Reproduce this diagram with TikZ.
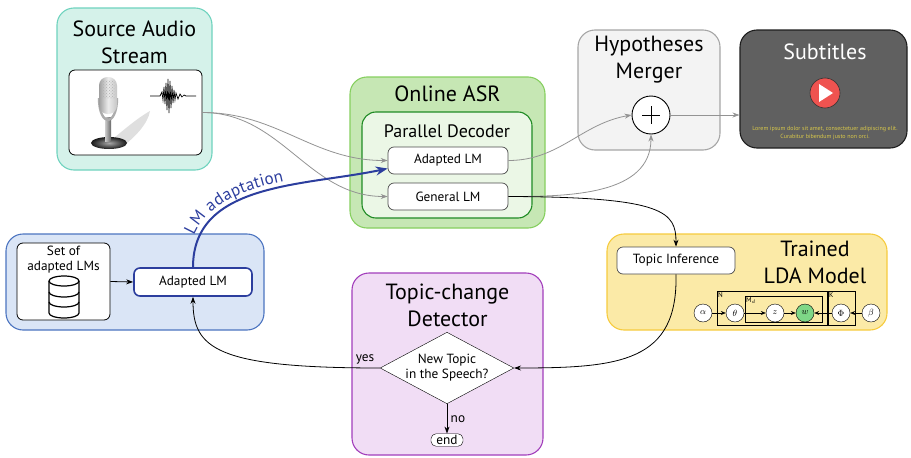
\documentclass[tikz,border=0pt]{standalone}
\usepackage{fontspec}
\setmainfont{PT Sans}
\usepackage{tikz}
\usetikzlibrary{arrows.meta,shapes.geometric,decorations.text,patterns}

\definecolor{srcfill}{HTML}{D5F2EA}
\definecolor{srcline}{HTML}{6FD3BE}
\definecolor{asrfill}{HTML}{C6E7B4}
\definecolor{asrline}{HTML}{86CF5F}
\definecolor{decfill}{HTML}{EBF7E6}
\definecolor{decline}{HTML}{1F8B24}
\definecolor{mrgfill}{HTML}{F3F3F3}
\definecolor{mrgline}{HTML}{A6A6A6}
\definecolor{subfill}{HTML}{606060}
\definecolor{subline}{HTML}{1E1E1E}
\definecolor{lmfill}{HTML}{DAE5F6}
\definecolor{lmline}{HTML}{4C74C0}
\definecolor{adaptblue}{HTML}{2C3E9E}
\definecolor{ldafill}{HTML}{FBEAA7}
\definecolor{ldaline}{HTML}{F6CB3E}
\definecolor{detfill}{HTML}{F1DDF5}
\definecolor{detline}{HTML}{A23EBB}
\definecolor{wordgreen}{HTML}{7ED787}
\definecolor{playred}{HTML}{EF5350}
\definecolor{loremtxt}{HTML}{D8C84A}

\newcommand\ttlfont{\fontsize{22}{27}\selectfont}
\newcommand\lblfont{\fontsize{13.3}{15}\selectfont}

\begin{document}
\begin{tikzpicture}[x=1pt,y=-1pt,
    panel/.style={draw, line width=1.1pt, rounded corners=17pt, inner sep=0pt},
    ttl/.style={font=\ttlfont, align=center},
    lmbox/.style={draw=black!70, fill=white, rounded corners=6pt, line width=0.7pt,
      minimum width=120pt, minimum height=27pt, inner sep=0pt, font=\lblfont},
    rv/.style={circle, draw, fill=white, minimum size=18pt, inner sep=0pt, font=\small},
    flow/.style={-{Stealth[length=7pt,width=5pt]}, line width=0.8pt},
    hyp/.style={-{Stealth[length=7pt,width=5pt]}, line width=0.8pt, gray!85},
    small arrow/.style={-{Stealth[length=5pt,width=4pt]}, line width=0.6pt}]
  \useasboundingbox (0,0) rectangle (911,458);

  % source audio
  \node[panel, draw=srcline, fill=srcfill, minimum width=155pt, minimum height=162pt] (src) at (134.5,89) {};
  \node[ttl] (srctitle) at (134.5,42) {Source Audio\\Stream};
  \node[draw, fill=white, rounded corners=6pt, line width=0.8pt, minimum width=133pt, minimum height=85pt] (srcimg) at (135.5,112.5) {};
  \fill[gray!55, opacity=0.45] (110,141) .. controls (124,130) and (136,119) .. (150,111) .. controls (148,124) and (134,138) .. (122,147) -- cycle;
  \shade[inner color=gray!70, outer color=black!90] (109,143) ellipse (18 and 6);
  \shade[left color=gray!40, right color=black!60] (105,117) rectangle (111,141);
  \draw[line width=2.4pt, gray!65] (99,98) .. controls (99,113) and (104,120) .. (108,120) .. controls (112,120) and (117,113) .. (117,98);
  \shade[left color=gray!75, right color=gray!45, middle color=gray!15, rounded corners=8.5pt] (99,77) rectangle (117,114);
  \fill[pattern=crosshatch dots, pattern color=gray!60] (101,80) rectangle (115,98);
  \draw[line width=0.7pt] (150,96) -- (160,96) -- (162,92) -- (163,100) -- (164,87) -- (165,104) -- (166,83)
    -- (167,110) -- (168,79) -- (169,113) -- (170,81) -- (171,108) -- (172,86) -- (173,103) -- (174,90)
    -- (175,100) -- (176,93) -- (178,99) -- (180,94) -- (182,97) -- (184,95) -- (186,96) -- (196,96);

  % online ASR
  \node[panel, draw=asrline, fill=asrfill, minimum width=195pt, minimum height=151pt] (asr) at (447.5,152.5) {};
  \node[ttl] (asrtitle) at (447.5,94) {Online ASR};
  \node[panel, draw=decline, fill=decfill, rounded corners=14pt, minimum width=170pt, minimum height=106pt] (dec) at (447,165) {};
  \node[font=\fontsize{18}{21}\selectfont] (dectitle) at (447,131) {Parallel Decoder};
  \node[lmbox] (asrA) at (448,160.5) {Adapted LM};
  \node[lmbox] (asrG) at (448,196.5) {General LM};

  % hypotheses merger
  \node[panel, draw=mrgline, fill=mrgfill, minimum width=142pt, minimum height=120pt] (mrg) at (649,90) {};
  \node[ttl] (mrgtitle) at (649,60) {Hypotheses\\Merger};
  \node[circle, draw, fill=white, line width=0.9pt, minimum size=38pt, inner sep=0pt] (plus) at (651,115) {};
  \draw[line width=1pt] (642,115) -- (660,115) (651,106) -- (651,124);

  % subtitles
  \node[panel, draw=subline, fill=subfill, minimum width=167pt, minimum height=118pt] (sub) at (823.5,89) {};
  \node[ttl, text=white] (subtitle) at (825,52) {Subtitles};
  \node[circle, draw=black!80, fill=playred, minimum size=30pt, line width=0.6pt] (play) at (825,93) {};
  \fill[white] (819,84) -- (833,93) -- (819,102) -- cycle;
  \node[font=\fontsize{6}{8}\selectfont, text=loremtxt, align=center] (lorem) at (825,133)
    {Lorem ipsum dolor sit amet, consectetuer adipiscing elit.\\Curabitur bibendum justo non orci.};

  % adapted LMs store
  \node[panel, draw=lmline, fill=lmfill, minimum width=258pt, minimum height=96pt] (store) at (135,282) {};
  \node[draw, fill=white, rounded corners=6pt, line width=0.8pt, minimum width=93pt, minimum height=77pt] (set) at (63.5,281.5) {};
  \node[font=\lblfont, align=center] (settitle) at (63.5,260) {Set of\\adapted LMs};
  \begin{scope}[line width=1.2pt]
    \draw[fill=white] (49,281) -- (49,313) arc (180:0:15 and 5) -- (79,281);
    \draw[fill=white] (64,281) ellipse (15 and 5);
    \draw (49,292) arc (180:0:15 and 5);
    \draw (49,302) arc (180:0:15 and 5);
  \end{scope}
  \node[lmbox, draw=adaptblue, line width=1.6pt, minimum width=118pt, minimum height=28pt] (alm) at (193,282) {Adapted LM};

  % trained LDA model
  \node[panel, draw=ldaline, fill=ldafill, minimum width=280pt, minimum height=96pt] (lda) at (747,282) {};
  \node[ttl, align=center] (ldatitle) at (815,262) {Trained\\LDA Model};
  \node[lmbox, minimum width=118pt] (ti) at (676,260.5) {Topic Inference};
  \draw[line width=0.7pt] (717,291) rectangle (827,325);
  \draw[line width=0.7pt] (745,296) rectangle (822,322);
  \draw[line width=0.7pt] (828,291) rectangle (855,325);
  \node[font=\scriptsize, anchor=north west, inner sep=1pt] at (717,291) {N};
  \node[font=\scriptsize, anchor=north west, inner sep=1pt] at (745,296) {M$_d$};
  \node[font=\scriptsize, anchor=north west, inner sep=1pt] at (828,291) {K};
  \node[rv] (alpha) at (703,313) {$\alpha$};
  \node[rv] (theta) at (735,313) {$\theta$};
  \node[rv] (z) at (775,313) {$z$};
  \node[rv, fill=wordgreen] (w) at (805,313) {$w$};
  \node[rv] (phi) at (841,313) {$\Phi$};
  \node[rv] (beta) at (871,313) {$\beta$};
  \draw[small arrow] (alpha) -- (theta);
  \draw[small arrow] (theta) -- (z);
  \draw[small arrow] (z) -- (w);
  \draw[small arrow] (phi) -- (w);
  \draw[small arrow] (beta) -- (phi);

  % topic-change detector
  \node[panel, draw=detline, fill=detfill, minimum width=191pt, minimum height=182pt] (det) at (447.5,364) {};
  \node[ttl] (dettitle) at (447.5,305) {Topic-change\\Detector};
  \node[diamond, draw, fill=white, aspect=1.87, inner sep=0pt, minimum width=127pt, minimum height=68pt,
    font=\lblfont, align=center] (q) at (447,368) {New Topic\\in the Speech?};
  \node[draw, fill=white, rounded corners=5pt, font=\lblfont, inner sep=1.5pt, minimum width=32pt] (end) at (447,440) {end};

  % connectors
  \draw[hyp] (srcimg.east) to[out=0,in=180] (asrA.west);
  \draw[hyp] (srcimg.east) to[out=0,in=180] (asrG.west);
  \draw[hyp] (asrA.east) to[out=0,in=190] (plus.west);
  \draw[hyp] (asrG.east) to[out=0,in=-90] (plus.south);
  \draw[hyp] (plus.east) -- (plus.east -| sub.west);
  \draw[flow] (asrG.east) .. controls (665,197) and (676,212) .. (ti.north);
  \draw[flow] (ti.south) .. controls (678,362) and (620,368) .. (q.east);
  \draw[flow] (q.west) node[anchor=south east, xshift=-2pt, font=\lblfont] {yes} .. controls (215,368) and (193,348) .. (alm.south);
  \draw[flow] (q.south) -- node[right, font=\lblfont] {no} (end.north);
  \draw[flow] (set.east) -- (alm.west);
  \draw[adaptblue, line width=2pt, -{Stealth[length=12pt,width=9pt]},
    postaction={decorate, decoration={text along path, text color=adaptblue, raise=5pt,
      text align={left indent=30pt}, text={|\fontsize{17}{17}\selectfont|LM adaptation}}}]
    (alm.north) to[out=90,in=192] ([yshift=-8pt]asrA.west);
\end{tikzpicture}
\end{document}
